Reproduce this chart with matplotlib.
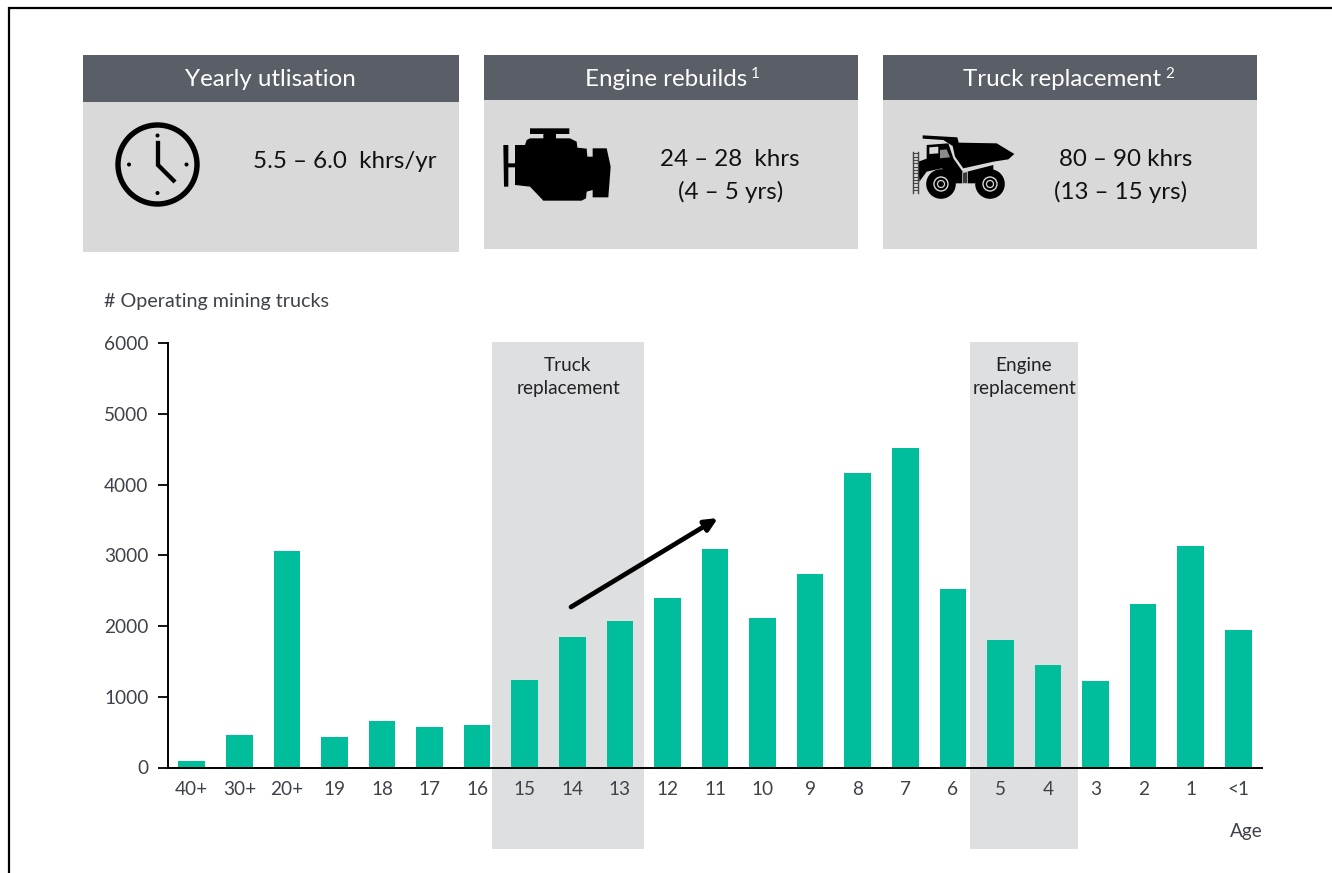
import matplotlib
matplotlib.use("Agg")
import matplotlib.pyplot as plt
from matplotlib.patches import Rectangle, Circle, Polygon

plt.rcParams['font.family'] = ['Lato', 'DejaVu Sans']

ages = ['40+', '30+', '20+', '19', '18', '17', '16', '15', '14', '13', '12', '11',
        '10', '9', '8', '7', '6', '5', '4', '3', '2', '1', '<1']
trucks = [90, 460, 3060, 430, 655, 570, 600, 1230, 1850, 2070, 2400, 3090,
          2120, 2730, 4160, 4510, 2530, 1800, 1450, 1220, 2310, 3130, 1940]
y_ticks = [0, 1000, 2000, 3000, 4000, 5000, 6000]

W, H = 1332, 873
GREEN, DARK, LIGHT, BAND, TXT = '#00BD9B', '#5A5E66', '#D9D9D9', '#DEDFE1', '#3F424A'
FS = 13.7

fig = plt.figure(figsize=(W / 100, H / 100), dpi=100, facecolor='white')

# pixel-space layer for the panels, bands and icons
bg = fig.add_axes([0, 0, 1, 1], zorder=0)
bg.set_xlim(0, W); bg.set_ylim(H, 0); bg.axis('off')

def rect(a, x0, y0, x1, y1, c, **kw):
    a.add_patch(Rectangle((x0, y0), x1 - x0, y1 - y0, fc=c, ec='none', **kw))

bg.plot([9, 9, W], [H, 8, 8], color='black', lw=1.6, solid_joinstyle='miter')

panels = [(83, 459, 55, 102, 252), (484, 858, 55, 100, 249), (883, 1257, 55, 100, 249)]
for x0, x1, y0, ym, y1 in panels:
    rect(bg, x0, y0, x1, ym, DARK)
    rect(bg, x0, ym, x1, y1, LIGHT)

for x0, x1 in [(492, 644), (970, 1078)]:
    rect(bg, x0, 342, x1, 849, BAND)

def head(x, y, s):
    bg.text(x, y, s, color='white', fontsize=17.4, ha='center', va='center')

head(270.5, 80, 'Yearly utlisation')
head(666, 79, 'Engine rebuilds')
bg.text(755, 74, '1', color='white', fontsize=11, ha='center', va='center')
head(1062, 79, 'Truck replacement')
bg.text(1170, 74, '2', color='white', fontsize=11, ha='center', va='center')

for x, y, s in [(345, 162, '5.5 – 6.0  khrs/yr'), (730, 159, '24 – 28  khrs'), (731, 192, '(4 – 5 yrs)'),
                (1126, 159, '80 – 90 khrs'), (1121, 192, '(13 – 15 yrs)')]:
    bg.text(x, y, s, color='#111111', fontsize=17.4, ha='center', va='center')

# clock icon
bg.add_patch(Circle((157.5, 164.5), 39.5, fc='none', ec='black', lw=3.9))
for cx, cy in [(157.5, 135.5), (157.5, 193), (129, 164.5), (186.5, 164.5)]:
    bg.add_patch(Circle((cx, cy), 2, fc='black', ec='none'))
bg.plot([158, 158, 173.5], [143, 165, 180.5], color='black', lw=3.1, solid_joinstyle='miter')

# engine icon
def zoomed(pts, ox, oy):
    return [(ox + a / 3, oy + b / 3) for a, b in pts]

eng = [(105, 285), (135, 285), (140, 270), (150, 265), (190, 265), (190, 252), (150, 252), (150, 235),
       (268, 235), (268, 252), (228, 252), (228, 265), (270, 265), (290, 275), (292, 293), (320, 296),
       (322, 320), (338, 320), (338, 295), (380, 295), (392, 350), (385, 442), (338, 442), (338, 420),
       (320, 425), (318, 445), (305, 452), (190, 452), (150, 410), (105, 405), (105, 352), (85, 352),
       (85, 410), (72, 410), (70, 285), (85, 285), (85, 340), (105, 340)]
bg.add_patch(Polygon(zoomed(eng, 480, 50), fc='black', ec='none'))

# truck icon
ox, oy = 880, 50
bed = [(128, 256), (232, 262), (236, 278), (350, 280), (403, 312), (385, 328), (340, 335), (250, 355),
       (225, 320), (218, 288), (190, 270), (128, 266)]
bg.add_patch(Polygon(zoomed(bed, ox, oy), fc='black', ec='none'))
body = [(115, 335), (140, 326), (140, 285), (205, 280), (220, 325), (250, 368), (340, 345), (340, 365),
        (300, 380), (285, 400), (225, 400), (185, 355), (140, 365), (118, 395)]
bg.add_patch(Polygon(zoomed(body, ox, oy), fc='black', ec='none'))
bg.add_patch(Polygon(zoomed([(148, 292), (175, 290), (175, 310), (148, 312)], ox, oy), fc=LIGHT, ec='none'))
bg.add_patch(Polygon(zoomed([(180, 300), (200, 298), (210, 322), (180, 325)], ox, oy), fc='#8A8A8A', ec='none'))
bg.add_patch(Polygon(zoomed([(247, 368), (263, 365), (263, 400), (247, 400)], ox, oy), fc='#3A3A3A', ec=LIGHT, lw=0.5))
for a in [98, 115]:
    bg.plot([ox + a / 3] * 2, [oy + 305 / 3, oy + 430 / 3], color='#444444', lw=1.0)
for b in range(310, 430, 10):
    bg.plot([ox + 98 / 3, ox + 115 / 3], [oy + b / 3] * 2, color='#444444', lw=0.8)
for a in (183, 330):
    cx, cy = ox + a / 3, oy + 402 / 3
    bg.add_patch(Circle((cx, cy), 14.8, fc='black', ec='none'))
    bg.add_patch(Circle((cx, cy), 7, fc='none', ec=LIGHT, lw=1.0))
    bg.add_patch(Circle((cx, cy), 3.5, fc='none', ec=LIGHT, lw=0.9))

# bar chart
ax = fig.add_axes([168 / W, 1 - 767.5 / H, (1262 - 168) / W, (767.5 - 343) / H], zorder=2)
ax.patch.set_alpha(0)
ax.bar(range(len(ages)), trucks, width=0.56, color=GREEN, zorder=2)
ax.set_xlim(-0.5, 22.5)
ax.set_ylim(0, 6000)
ax.set_yticks(y_ticks)
ax.set_xticks(range(len(ages)), ages)
ax.tick_params(axis='x', length=0, pad=10, labelsize=FS, labelcolor=TXT)
ax.tick_params(axis='y', length=7, width=1.3, pad=7, labelsize=FS, labelcolor=TXT, direction='out')
for s in ('top', 'right'):
    ax.spines[s].set_visible(False)
for s in ('left', 'bottom'):
    ax.spines[s].set_linewidth(1.4)
    ax.spines[s].set_color('black')

# foreground layer for annotations
fg = fig.add_axes([0, 0, 1, 1], zorder=3)
fg.set_xlim(0, W); fg.set_ylim(H, 0); fg.axis('off')
fg.text(104, 301, '# Operating mining trucks', fontsize=14.2, color=TXT, ha='left', va='center')
fg.text(1263, 831, 'Age', fontsize=FS, color=TXT, ha='right', va='center')
fg.text(568, 377, 'Truck\nreplacement', fontsize=FS, color='#222222', ha='center', va='center', linespacing=1.48)
fg.text(1024, 377, 'Engine\nreplacement', fontsize=FS, color='#222222', ha='center', va='center', linespacing=1.48)
fg.annotate('', xy=(718, 518), xytext=(571, 607),
            arrowprops=dict(arrowstyle='-|>,head_length=0.75,head_width=0.35', color='black', lw=3.4,
                            shrinkA=0, shrinkB=0))

fig.savefig('out.png', dpi=100)
